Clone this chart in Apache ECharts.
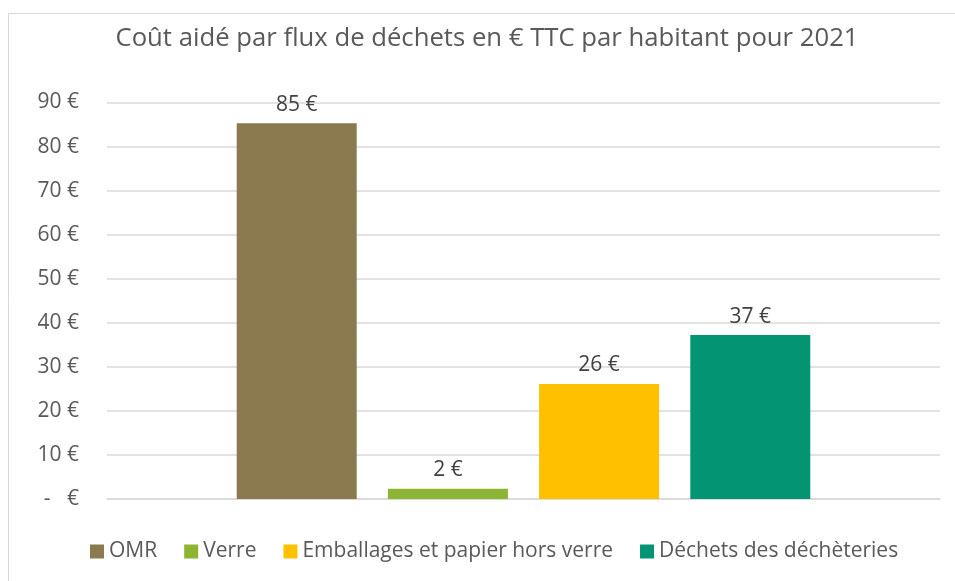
<!DOCTYPE html>
<html>
<head>
<meta charset="utf-8">
<script src="https://cdn.jsdelivr.net/npm/echarts@6/dist/echarts.min.js"></script>
<style>
  html, body { margin: 0; padding: 0; background: #fff; }
  #chart { width: 955px; height: 581px; }
</style>
</head>
<body>
<div id="chart"></div>
<script>
// data
const title = 'Coût aidé par flux de déchets en € TTC par habitant pour 2021'
const seriesNames = ['OMR', 'Verre', 'Emballages et papier hors verre', 'Déchets des déchèteries']
const seriesValues = [85.3, 2.3, 26.1, 37.2]
const seriesColors = ['#8b7a50', '#8bb533', '#ffc000', '#039473']
const yTicks = [0, 10, 20, 30, 40, 50, 60, 70, 80, 90]

const font = 'Open Sans'
const textColor = '#595959'

const chart = echarts.init(document.getElementById('chart'))

const series = seriesNames.map((name, i) => ({
  name: name,
  type: 'bar',
  data: [seriesValues[i]],
  barWidth: 120,
  barGap: '26%',
  itemStyle: { color: seriesColors[i] },
  label: {
    show: true,
    position: 'top',
    distance: 8,
    color: '#404040',
    fontFamily: font,
    fontSize: 21,
    formatter: (p) => Math.round(p.value) + ' €'
  }
}))

chart.setOption({
  animation: false,
  title: {
    text: title,
    left: 482,
    textAlign: 'center',
    top: 21,
    textStyle: { fontFamily: font, fontSize: 25.7, fontWeight: 'normal', color: textColor }
  },
  graphic: [{
    type: 'rect',
    shape: { x: 8.5, y: 13.5, width: 1000, height: 1000 },
    style: { fill: 'none', stroke: '#d9d9d9', lineWidth: 1 },
    silent: true
  }],
  legend: {
    data: seriesNames,
    bottom: 14,
    left: 85,
    itemWidth: 14,
    itemHeight: 14,
    itemGap: 27,
    icon: 'rect',
    textStyle: { fontFamily: font, fontSize: 21, color: textColor }
  },
  grid: { left: 107, right: 15, top: 102.5, bottom: 82, containLabel: false },
  xAxis: {
    type: 'category',
    data: [''],
    axisLine: { show: true, lineStyle: { color: '#d9d9d9', width: 1.5 } },
    axisTick: { show: false },
    axisLabel: { show: false }
  },
  yAxis: {
    type: 'value',
    min: yTicks[0],
    max: yTicks[yTicks.length - 1],
    interval: 10,
    axisLine: { show: false },
    axisTick: { show: false },
    splitLine: { lineStyle: { color: '#d9d9d9', width: 1.5 } },
    axisLabel: {
      margin: 28,
      color: textColor,
      fontFamily: font,
      fontSize: 21,
      formatter: (v) => v === 0 ? '-   €' : v + ' €'
    }
  },
  series: series
})
</script>
</body>
</html>
